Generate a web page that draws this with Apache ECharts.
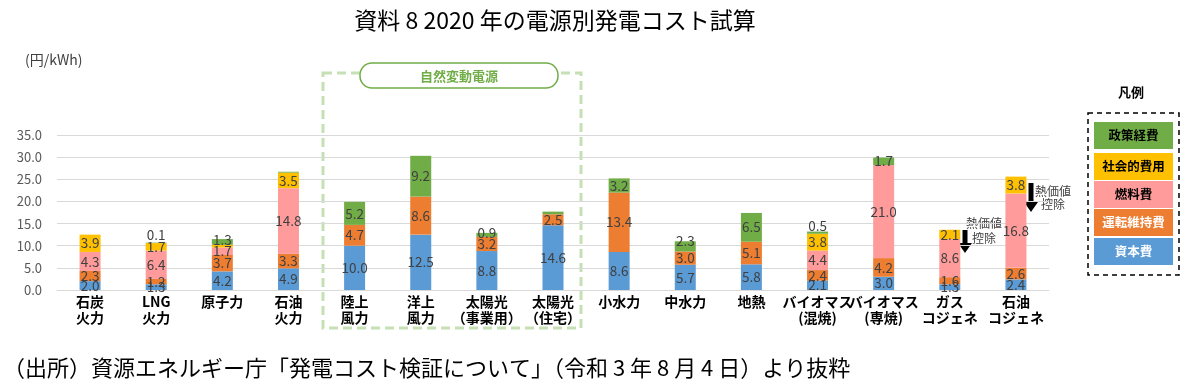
<!DOCTYPE html>
<html>
<head>
<meta charset="utf-8">
<script src="https://cdn.jsdelivr.net/npm/echarts@6/dist/echarts.min.js"></script>
<style>
html,body{margin:0;padding:0;background:#fff;}
#c{width:1184px;height:385px;}
</style>
</head>
<body>
<div id="c"></div>
<script>
// ---- data ----
const categories = ['石炭\n火力','LNG\n火力','原子力','石油\n火力','陸上\n風力','洋上\n風力','太陽光\n（事業用）','太陽光\n（住宅）','小水力','中水力','地熱','バイオマス\n(混焼)','バイオマス\n(専焼)','ガス\nコジェネ','石油\nコジェネ'];
const seriesNames = ['資本費','運転維持費','燃料費','社会的費用','政策経費'];
const capital = [2.0,1.3,4.2,4.9,10.0,12.5,8.8,14.6,8.6,5.7,5.8,2.1,3.0,1.3,2.4];
const om      = [2.3,1.2,3.7,3.3,4.7,8.6,3.2,2.5,13.4,3.0,5.1,2.4,4.2,1.6,2.6];
const fuel    = [4.3,6.4,1.7,14.8,0,0,0,0,0,0,0,4.4,21.0,8.6,16.8];
const social  = [3.9,1.7,0.6,3.5,0,0,0,0,0,0,0,3.8,0,2.1,3.8];
const policy  = [0,0.1,1.3,0.2,5.2,9.2,0.9,0.6,3.2,2.3,6.5,0.5,1.7,0,0];
const yTicks = [0,5,10,15,20,25,30,35];
const title = '資料 8 2020 年の電源別発電コスト試算';
const unitLabel = '(円/kWh)';
const groupLabel = '自然変動電源';
const legendTitle = '凡例';
const noteText = '熱価値\n控除';
const source = '（出所）資源エネルギー庁「発電コスト検証について」（令和 3 年 8 月 4 日）より抜粋';

// ---- styles ----
const colors = ['#5b9bd5','#ed7d31','#ff9b9b','#ffc000','#70ad47'];
const legendTextColors = ['#fff','#fff','#000','#000','#000'];
const FONT = '"Noto Sans CJK JP", "Noto Sans", sans-serif';
const allData = [capital, om, fuel, social, policy];
// labels hidden for tiny segments (seriesIndex-dataIndex)
const hidden = new Set(['3-2','4-3','4-7']);
// special label placements
const special = {
  '4-1': {position:'top', distance:1},
  '4-11': {position:'top', distance:-1},
  '4-9': {position:'inside', offset:[0,-6]},
  '4-6': {position:'inside', offset:[0,-2]},
  '4-2': {position:'inside', offset:[0,-2]}
};

const chart = echarts.init(document.getElementById('c'), null, {renderer:'canvas'});

const series = seriesNames.map((name, si) => ({
  name, type:'bar', stack:'total', barWidth:21,
  itemStyle:{color:colors[si]},
  data: allData[si].map((v, di) => {
    const key = si + '-' + di;
    const item = {value: v};
    if (v === 0 || hidden.has(key)) {
      item.label = {show:false};
    } else if (special[key]) {
      item.label = Object.assign({show:true}, special[key]);
    }
    return item;
  }),
  label:{
    show:true, position:'inside', color:'#404040', fontSize:13.5, fontFamily:FONT,
    formatter: p => p.value.toFixed(1)
  }
}));

// legend graphic (built from series names/colors)
const legendItems = [];
const order = [4,3,2,1,0];
const itemY = [122,153,181,209,238];
order.forEach((si, k) => {
  legendItems.push({
    type:'rect', shape:{x:1094, y:itemY[k], width:79, height:27},
    style:{fill:colors[si]}
  });
  legendItems.push({
    type:'text', x:1133.5, y:itemY[k]+13.5,
    style:{text:seriesNames[si], fill:legendTextColors[si], font:'bold 12.5px ' + FONT, textAlign:'center', textVerticalAlign:'middle'}
  });
});

function arrow(x, y1, y2) {
  return [
    {type:'rect', shape:{x:x-2.5, y:y1, width:5, height:y2-y1-9}, style:{fill:'#000'}},
    {type:'polygon', shape:{points:[[x-7,y2-10],[x+7,y2-10],[x,y2]]}, style:{fill:'#000'}}
  ];
}

const option = {
  animation:false,
  backgroundColor:'#fff',
  title:{
    text:title, left:550, top:4, textAlign:'center',
    textStyle:{fontFamily:FONT, fontWeight:'normal', fontSize:23, color:'#000'}
  },
  grid:{left:57, right:135, top:135, bottom:95, containLabel:false},
  xAxis:{
    type:'category', data:categories,
    axisLine:{lineStyle:{color:'#d9d9d9', width:1}},
    axisTick:{show:false},
    axisLabel:{interval:0, color:'#000', fontWeight:'bold', fontSize:14, lineHeight:16, margin:4, fontFamily:FONT}
  },
  yAxis:{
    type:'value', min:yTicks[0], max:yTicks[yTicks.length-1], interval:yTicks[1]-yTicks[0],
    axisLine:{show:false}, axisTick:{show:false},
    splitLine:{lineStyle:{color:'#d9d9d9', width:1}},
    axisLabel:{color:'#595959', fontSize:13, margin:15, fontFamily:FONT, formatter: v => v.toFixed(1)}
  },
  series,
  graphic:[
    {type:'text', x:25, y:53, style:{text:unitLabel, fill:'#404040', font:'14px ' + FONT}},
    {type:'rect', shape:{x:323, y:73, width:258, height:255}, style:{fill:null, stroke:'#c5e0b4', lineWidth:3, lineDash:[9,5]}},
    {type:'rect', shape:{x:360, y:63, width:198, height:25, r:12}, style:{fill:'#fff', stroke:'#70ad47', lineWidth:1.5}},
    {type:'text', x:459, y:76, style:{text:groupLabel, fill:'#70ad47', font:'bold 13px ' + FONT, textAlign:'center', textVerticalAlign:'middle'}},
    {type:'text', x:1131, y:92, style:{text:legendTitle, fill:'#000', font:'bold 13px ' + FONT, textAlign:'center', textVerticalAlign:'middle'}},
    {type:'rect', shape:{x:1088, y:113, width:91, height:162}, style:{fill:null, stroke:'#000', lineWidth:1.5, lineDash:[5,4]}},
    ...legendItems,
    ...arrow(965, 230, 253),
    ...arrow(1031, 183, 212),
    {type:'text', x:984, y:216, style:{text:noteText, fill:'#404040', font:'12px ' + FONT, textAlign:'center', lineHeight:15}},
    {type:'text', x:1053, y:185, style:{text:noteText, fill:'#404040', font:'12px ' + FONT, textAlign:'center', lineHeight:13}},
    {type:'text', x:3, y:357, style:{text:source, fill:'#000', font:'22px ' + FONT}}
  ]
};
chart.setOption(option);
</script>
</body>
</html>
